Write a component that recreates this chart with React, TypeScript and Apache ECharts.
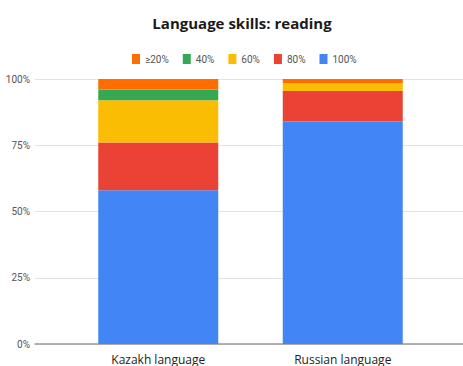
import React, { useEffect, useRef } from "react";
import * as echarts from "echarts";

const categories = ["Kazakh language", "Russian language"];
const legendOrder = ["≥20%", "40%", "60%", "80%", "100%"];
// stacked from bottom: 100%, 80%, 60%, 40%, ≥20%
const s100 = [58, 84];
const s80 = [18, 11.5];
const s60 = [16, 3];
const s40 = [4, 0];
const s20 = [4, 1.5];
const yTicks = [0, 25, 50, 75, 100];

const colors: Record<string, string> = {
  "100%": "#4285f4",
  "80%": "#ea4335",
  "60%": "#fbbc04",
  "40%": "#34a853",
  "≥20%": "#ff6d01",
};

export default function App() {
  const ref = useRef<HTMLDivElement>(null);
  useEffect(() => {
    if (!ref.current) return;
    const chart = echarts.init(ref.current, undefined, { renderer: "svg" });
    const stackData: [string, number[]][] = [
      ["100%", s100],
      ["80%", s80],
      ["60%", s60],
      ["40%", s40],
      ["≥20%", s20],
    ];
    chart.setOption({
      animation: false,
      textStyle: { fontFamily: "Open Sans" },
      title: {
        text: "Language skills: reading",
        left: 237,
        textAlign: "center",
        top: 10,
        textStyle: { fontSize: 15, fontWeight: "bold", color: "#1a1a1a", fontFamily: "Open Sans" },
      },
      legend: {
        data: legendOrder,
        top: 49,
        left: 127,
        width: 330,
        itemWidth: 8,
        itemHeight: 10,
        itemGap: 14,
        icon: "rect",
        textStyle: { fontSize: 10, color: "#555", fontFamily: "Roboto" },
      },
      grid: [
        { left: 66, right: 28, top: 79, bottom: 22 },
        { left: 35, right: 0, top: 79, bottom: 22 },
      ],
      xAxis: [
        {
          type: "category",
          gridIndex: 0,
          data: categories,
          axisLine: { show: false },
          axisTick: { show: false },
          axisLabel: { fontSize: 12, color: "#222", margin: 9, fontFamily: "Open Sans" },
        },
        {
          type: "category",
          gridIndex: 1,
          data: [""],
          axisLine: { show: true, lineStyle: { color: "#999", width: 1.5 } },
          axisTick: { show: false },
          axisLabel: { show: false },
        },
      ],
      yAxis: [
        {
          type: "value",
          gridIndex: 0,
          min: 0,
          max: 100,
          interval: 25,
          show: false,
        },
        {
          type: "value",
          gridIndex: 1,
          min: yTicks[0],
          max: yTicks[yTicks.length - 1],
          interval: 25,
          axisLine: { show: false },
          axisTick: { show: false },
          splitLine: { lineStyle: { color: "#e2e2e2" } },
          axisLabel: {
            formatter: (v: number) => v + "%",
            fontSize: 10,
            color: "#555",
            margin: 5,
            fontFamily: "Roboto",
          },
        },
      ],
      series: stackData.map(([name, vals]) => ({
        name,
        type: "bar",
        stack: "total",
        xAxisIndex: 0,
        yAxisIndex: 0,
        barWidth: 120,
        data: vals,
        itemStyle: { color: colors[name] },
      })),
    });
    return () => chart.dispose();
  }, []);
  return <div ref={ref} style={{ width: 463, height: 366, position: "absolute", left: 0, top: 0 }} />;
}
